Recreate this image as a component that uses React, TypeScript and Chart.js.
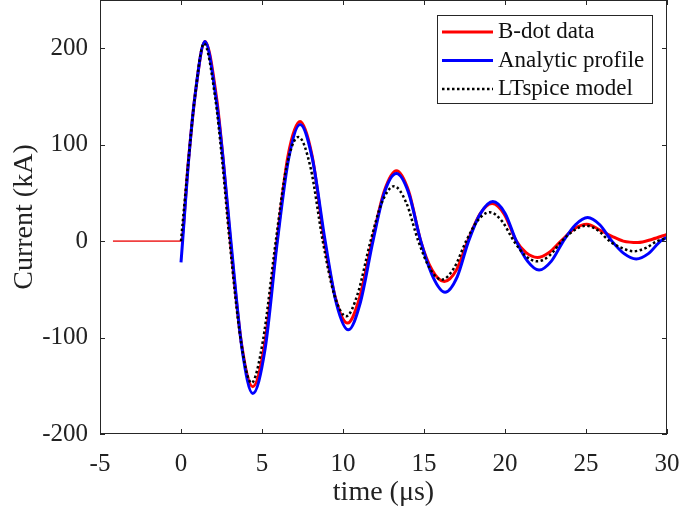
import React, { useEffect, useRef } from "react";
import { Chart, registerables } from "chart.js";
Chart.register(...registerables);

// B-dot data (red)
const bdotT = [-4.2, 0, 0.45, 0.86, 1.48, 2.2, 2.6, 3.05, 3.75, 4.43, 5.15, 5.92, 6.6, 7.35, 8.1, 8.85, 9.55, 10.28, 11.0, 11.8, 12.55, 13.3, 14.05, 14.8, 15.5, 16.25, 17.0, 17.7, 18.45, 19.2, 19.95, 20.7, 21.3, 22.0, 22.7, 23.45, 24.3, 25.05, 25.9, 26.6, 27.3, 28.2, 29.1, 30];
const bdotI = [0, 0, 82, 150, 207, 148, 85, 0, -108, -151, -108, 0, 88, 124, 88, 0, -60, -85, -60, 0, 52, 73, 52, 0, -30, -42, -30, 0, 28, 39, 28, 0, -12, -17, -12, 0, 13, 17.5, 11, 5, 0, -1.5, 2, 7];

// Analytic profile (blue)
const anaT = [0, 0.1, 0.45, 0.86, 1.48, 2.15, 2.6, 3.08, 3.77, 4.43, 5.19, 5.95, 6.65, 7.35, 8.1, 8.9, 9.6, 10.33, 11.05, 11.85, 12.55, 13.3, 14.05, 14.8, 15.55, 16.3, 17.05, 17.75, 18.5, 19.25, 20.0, 20.7, 21.4, 22.1, 22.85, 23.6, 24.35, 25.1, 25.85, 26.6, 27.35, 28.1, 28.85, 29.6, 30];
const anaI = [-22, 0, 80, 150, 207, 150, 85, 0, -112, -158, -112, 0, 86, 121, 86, 0, -65, -92, -65, 0, 50, 70, 50, 0, -37, -53, -37, 0, 29, 41, 29, 0, -21, -30, -21, 0, 17, 24.5, 17, 0, -13, -18.5, -13, 0, 4];

// LTspice model (black dotted)
const ltT = [0, 0.45, 0.86, 1.42, 2.1, 2.55, 3.0, 3.7, 4.35, 5.05, 5.85, 6.5, 7.25, 8.0, 8.75, 9.45, 10.2, 10.9, 11.7, 12.4, 13.15, 13.9, 14.65, 15.35, 16.1, 16.85, 17.6, 18.3, 19.05, 19.8, 20.55, 21.25, 22.0, 22.75, 23.5, 24.25, 25.0, 25.75, 26.45, 27.2, 27.95, 28.7, 29.4, 30];
const ltI = [0, 82, 150, 205, 150, 82, 0, -104, -147, -104, 0, 76, 108, 76, 0, -55, -78, -55, 0, 40, 57, 40, 0, -28, -40, -28, 0, 21, 30, 21, 0, -15, -21, -15, 0, 11, 16, 11, 0, -7, -10.5, -7, 0, 3];

const xTicks = [-5, 0, 5, 10, 15, 20, 25, 30];
const yTicks = [-200, -100, 0, 100, 200];
const legendLabels = ["B-dot data", "Analytic profile", "LTspice model"];
const colors = ["#ff0000", "#0000ff", "#000000"];

const FONT = "'Liberation Serif', 'Times New Roman', serif";
const AXIS = "#262626";

function toXY(t: number[], v: number[]) {
  return t.map((x, i) => ({ x, y: v[i] }));
}

const framePlugin = {
  id: "frameLegend",
  afterDatasetsDraw(chart: any) {
    const { ctx, chartArea: a, scales } = chart;
    const x = scales.x;
    const y = scales.y;
    ctx.save();
    ctx.strokeStyle = AXIS;
    ctx.lineWidth = 1;
    ctx.strokeRect(a.left + 0.5, a.top + 0.5, a.right - a.left - 1, a.bottom - a.top - 1);
    const L = 5;
    ctx.beginPath();
    for (const v of xTicks) {
      const px = Math.round(x.getPixelForValue(v)) + 0.5;
      ctx.moveTo(px, a.bottom);
      ctx.lineTo(px, a.bottom - L);
      ctx.moveTo(px, a.top);
      ctx.lineTo(px, a.top + L);
    }
    for (const v of yTicks) {
      const py = Math.round(y.getPixelForValue(v)) + 0.5;
      ctx.moveTo(a.left, py);
      ctx.lineTo(a.left + L, py);
      ctx.moveTo(a.right, py);
      ctx.lineTo(a.right - L, py);
    }
    ctx.stroke();

    // legend
    const bx = a.right - 230;
    const by = a.top + 15;
    const bw = 215;
    const bh = 88;
    ctx.fillStyle = "#ffffff";
    ctx.fillRect(bx, by, bw, bh);
    ctx.strokeRect(bx + 0.5, by + 0.5, bw, bh);
    ctx.font = `23px ${FONT}`;
    ctx.textBaseline = "middle";
    ctx.textAlign = "left";
    legendLabels.forEach((lab, i) => {
      const ry = by + 17 + i * 28.5;
      ctx.beginPath();
      ctx.strokeStyle = colors[i];
      if (i === 2) {
        ctx.lineWidth = 2.5;
        ctx.setLineDash([2.5, 2.5]);
      } else {
        ctx.lineWidth = 3;
        ctx.setLineDash([]);
      }
      ctx.moveTo(bx + 5, ry);
      ctx.lineTo(bx + 56, ry);
      ctx.stroke();
      ctx.setLineDash([]);
      ctx.fillStyle = "#111";
      ctx.fillText(lab, bx + 61, ry);
    });
    ctx.restore();
  },
};

export default function App() {
  const ref = useRef<HTMLCanvasElement | null>(null);
  useEffect(() => {
    document.body.style.margin = "0";
    if (!ref.current) return;
    const chart = new Chart(ref.current, {
      type: "line",
      data: {
        datasets: [
          {
            label: legendLabels[0],
            data: toXY(bdotT, bdotI),
            borderColor: colors[0],
            borderWidth: 3,
            pointRadius: 0,
            cubicInterpolationMode: "monotone",
            order: 3,
            segment: {
              borderWidth: (c: any) => (c.p1.parsed.x <= 0 ? 1.8 : undefined),
              borderColor: (c: any) => (c.p1.parsed.x <= 0 ? "#f04040" : undefined),
            },
          },
          {
            label: legendLabels[1],
            data: toXY(anaT, anaI),
            borderColor: colors[1],
            borderWidth: 3,
            pointRadius: 0,
            cubicInterpolationMode: "monotone",
            order: 2,
          },
          {
            label: legendLabels[2],
            data: toXY(ltT, ltI),
            borderColor: colors[2],
            borderWidth: 2.5,
            borderDash: [2.5, 2.5],
            pointRadius: 0,
            cubicInterpolationMode: "monotone",
            order: 1,
          },
        ],
      },
      options: {
        animation: false,
        responsive: true,
        maintainAspectRatio: false,
        layout: { padding: { top: 0, right: 14, bottom: 0, left: 0 } },
        plugins: { legend: { display: false }, tooltip: { enabled: false } },
        scales: {
          x: {
            type: "linear",
            min: -5,
            max: 30,
            grid: { display: false },
            border: { display: false },
            afterBuildTicks: (s: any) => {
              s.ticks = xTicks.map((v) => ({ value: v }));
            },
            afterFit: (s: any) => {
              s.height = 82;
              s.paddingLeft = 0;
              s.paddingRight = 0;
            },
            ticks: {
              padding: 7,
              color: "#222",
              font: { family: FONT, size: 25 },
              maxRotation: 0,
              autoSkip: false,
            },
            title: {
              display: true,
              text: "time (μs)",
              color: "#222",
              font: { family: FONT, size: 28 },
              padding: { top: 0, bottom: 7 },
            },
          },
          y: {
            type: "linear",
            min: -200,
            max: 250,
            grid: { display: false },
            border: { display: false },
            afterBuildTicks: (s: any) => {
              s.ticks = yTicks.map((v) => ({ value: v }));
            },
            afterFit: (s: any) => {
              s.width = 100;
              s.paddingTop = 0;
              s.paddingBottom = 0;
            },
            ticks: {
              padding: 4,
              color: "#222",
              font: { family: FONT, size: 25 },
              autoSkip: false,
            },
            title: {
              display: true,
              text: "Current (kA)",
              color: "#222",
              font: { family: FONT, size: 28 },
              padding: { top: 8, bottom: 0 },
            },
          },
        },
      },
      plugins: [framePlugin],
    } as any);
    return () => chart.destroy();
  }, []);
  return (
    <div style={{ width: 681, height: 516, position: "relative" }}>
      <canvas ref={ref} />
    </div>
  );
}
